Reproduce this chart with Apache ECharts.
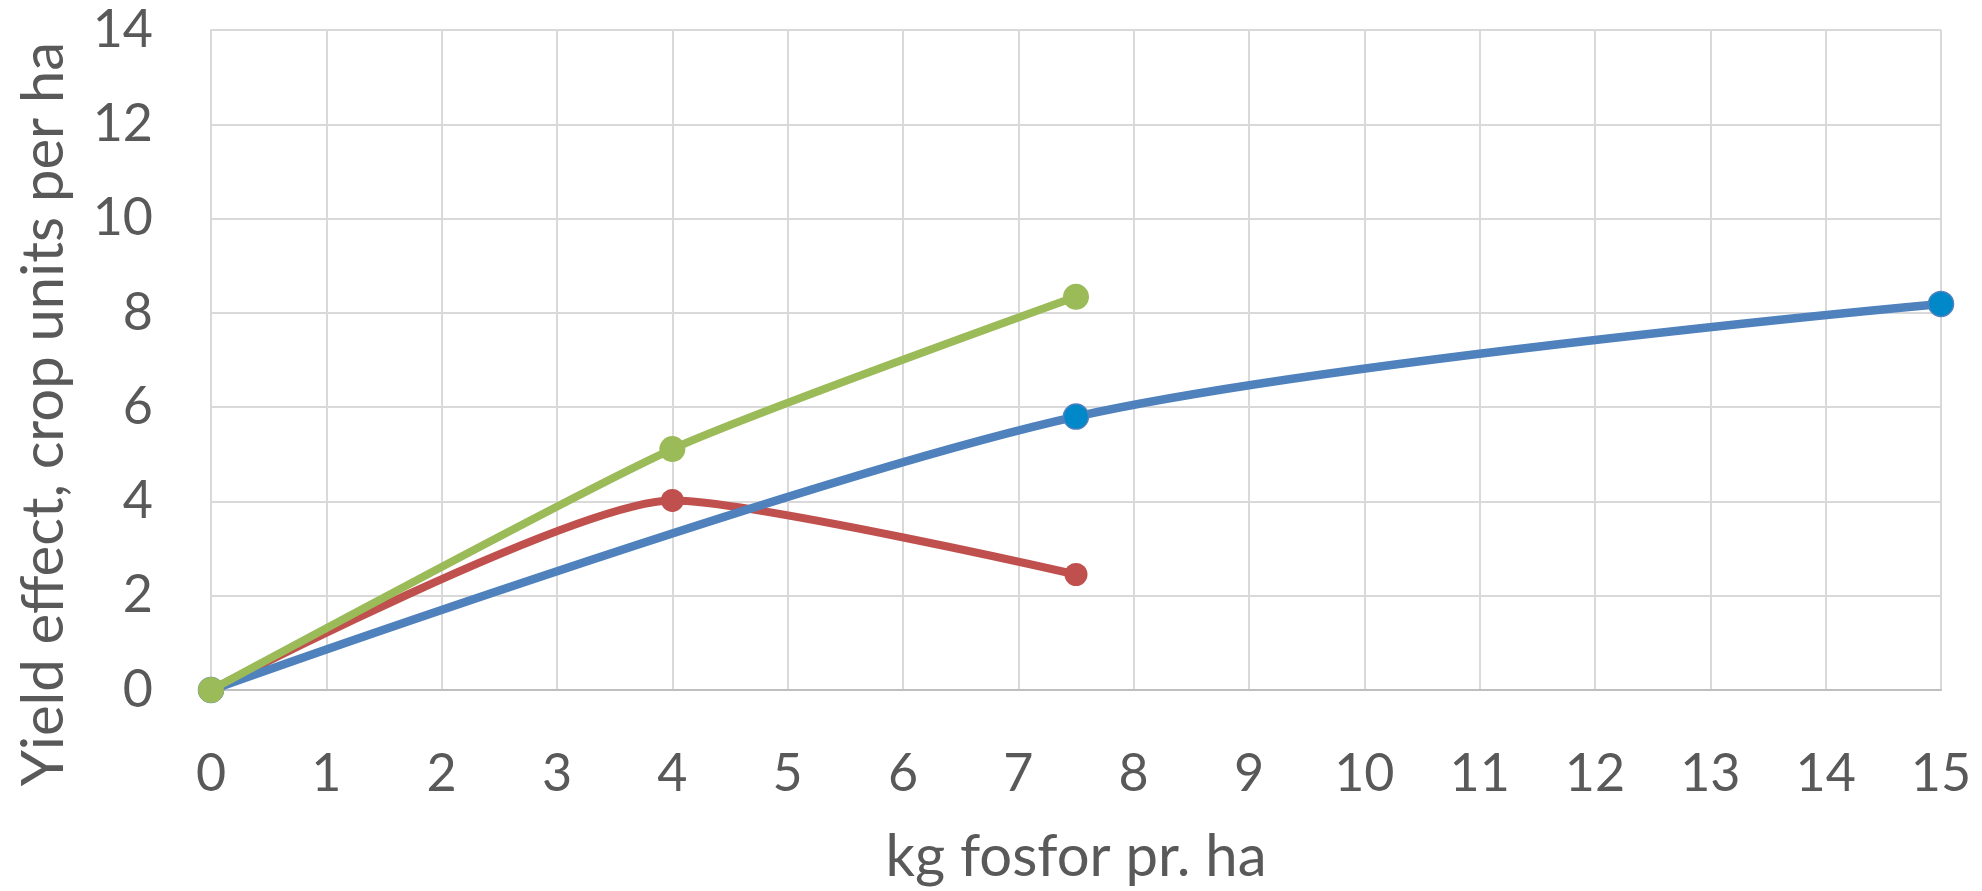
<!DOCTYPE html>
<html><head><meta charset="utf-8">
<script src="https://cdn.jsdelivr.net/npm/echarts@6/dist/echarts.min.js"></script>
<style>html,body{margin:0;padding:0;background:#fff}#c{width:1982px;height:891px}</style>
</head><body><div id="c"></div>
<script>
const xTicks = [0,1,2,3,4,5,6,7,8,9,10,11,12,13,14,15];
const yTicks = [0,2,4,6,8,10,12,14];
const blueX = [0, 7.5, 15];
const blueY = [0, 5.8, 8.19];
const redX = [0, 4, 7.5];
const redY = [0, 4.02, 2.45];
const greenX = [0, 4, 7.5];
const greenY = [0, 5.11, 8.34];
const xName = 'kg fosfor pr. ha';
const yName = 'Yield effect, crop units per ha';

const pairs = (xs, ys) => xs.map((x, i) => [x, ys[i]]);
const font = 'Lato, "Open Sans", sans-serif';
const chart = echarts.init(document.getElementById('c'), null, {renderer: 'canvas'});
chart.setOption({
  animation: false,
  grid: {left: 211, right: 41, top: 30, bottom: 201},
  xAxis: {
    type: 'value', min: xTicks[0], max: xTicks[xTicks.length-1], interval: 1,
    name: xName, nameLocation: 'middle', nameGap: 138,
    nameTextStyle: {color: '#595959', fontSize: 58, fontFamily: font},
    axisLine: {show: true, lineStyle: {color: '#BFBFBF', width: 2}},
    axisTick: {show: false},
    axisLabel: {color: '#595959', fontSize: 52, fontFamily: font, margin: 58},
    splitLine: {show: true, lineStyle: {color: '#D9D9D9', width: 2}}
  },
  yAxis: {
    type: 'value', min: yTicks[0], max: yTicks[yTicks.length-1], interval: 2,
    axisLine: {show: true, lineStyle: {color: '#D9D9D9', width: 2}},
    axisTick: {show: false},
    axisLabel: {color: '#595959', fontSize: 52, fontFamily: font, margin: 58},
    splitLine: {show: true, lineStyle: {color: '#D9D9D9', width: 2}}
  },
  graphic: [{
    type: 'text', x: 44, y: 414, rotation: Math.PI/2,
    style: {text: yName, fill: '#595959', fontSize: 58, fontFamily: font,
            textAlign: 'center', textVerticalAlign: 'middle'}
  }],
  series: [
    {type: 'line', data: pairs(redX, redY), smooth: 0.2, z: 2,
     lineStyle: {color: '#C0504D', width: 8}, symbol: 'circle', symbolSize: 23,
     itemStyle: {color: '#C0504D'}},
    {type: 'line', data: pairs(blueX, blueY), smooth: 0.3, z: 3,
     lineStyle: {color: '#4F81BD', width: 8.5}, symbol: 'circle', symbolSize: 25,
     itemStyle: {color: '#0088C9', borderColor: '#4F81BD', borderWidth: 1.5}},
    {type: 'line', data: pairs(greenX, greenY), smooth: 0.2, z: 4,
     lineStyle: {color: '#9BBB59', width: 8}, symbol: 'circle', symbolSize: 26,
     itemStyle: {color: '#9BBB59'}}
  ]
});
</script></body></html>
